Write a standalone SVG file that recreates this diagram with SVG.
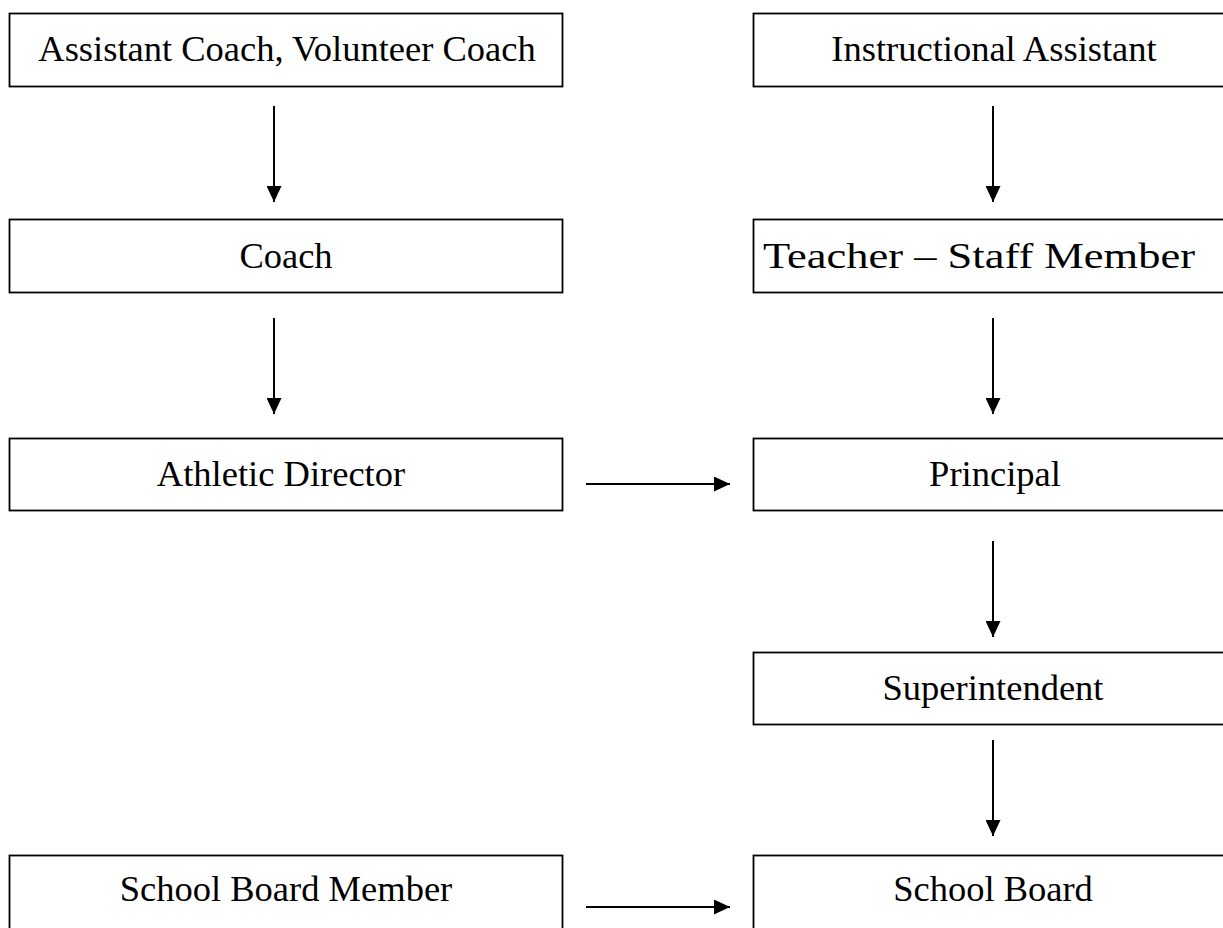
<svg xmlns="http://www.w3.org/2000/svg" width="1223" height="928" viewBox="0 0 1223 928">
  <defs>
    <marker id="arrow" markerUnits="userSpaceOnUse" markerWidth="16" markerHeight="15" refX="16" refY="7.5" orient="auto">
      <path d="M0,0 L16,7.5 L0,15 z" fill="#000"/>
    </marker>
  </defs>
  <style>
    .box { fill: #fff; stroke: #000; stroke-width: 1.8; }
    .lbl { font-family: "Liberation Serif", "Times New Roman", serif; font-size: 36.5px; fill: #000; text-anchor: middle; }
    .conn { stroke: #000; stroke-width: 2; fill: none; marker-end: url(#arrow); }
  </style>
  <rect width="1223" height="928" fill="#fff"/>
  <g id="n-assistant-coach">
    <rect class="box" x="9.5" y="13.5" width="553" height="73"/>
    <text class="lbl" x="287" y="61">Assistant Coach, Volunteer Coach</text>
  </g>
  <g id="n-instructional-assistant">
    <rect class="box" x="753.5" y="13.5" width="480" height="73"/>
    <text class="lbl" x="994" y="61">Instructional Assistant</text>
  </g>
  <g id="n-coach">
    <rect class="box" x="9.5" y="219.5" width="553" height="73"/>
    <text class="lbl" x="286" y="268">Coach</text>
  </g>
  <g id="n-teacher">
    <rect class="box" x="753.5" y="219.5" width="480" height="73"/>
    <text class="lbl" x="979" y="268" textLength="432" lengthAdjust="spacingAndGlyphs">Teacher – Staff Member</text>
  </g>
  <g id="n-athletic-director">
    <rect class="box" x="9.5" y="438.5" width="553" height="72"/>
    <text class="lbl" x="281" y="486">Athletic Director</text>
  </g>
  <g id="n-principal">
    <rect class="box" x="753.5" y="438.5" width="480" height="72"/>
    <text class="lbl" x="995" y="486">Principal</text>
  </g>
  <g id="n-superintendent">
    <rect class="box" x="753.5" y="652.5" width="480" height="72"/>
    <text class="lbl" x="993" y="700">Superintendent</text>
  </g>
  <g id="n-school-board-member">
    <rect class="box" x="9.5" y="855.5" width="553" height="80"/>
    <text class="lbl" x="286" y="901">School Board Member</text>
  </g>
  <g id="n-school-board">
    <rect class="box" x="753.5" y="855.5" width="480" height="80"/>
    <text class="lbl" x="993" y="901">School Board</text>
  </g>
  <g id="connectors">
    <line class="conn" x1="274" y1="106" x2="274" y2="202"/>
    <line class="conn" x1="274" y1="318" x2="274" y2="414"/>
    <line class="conn" x1="993" y1="106" x2="993" y2="202"/>
    <line class="conn" x1="993" y1="318" x2="993" y2="414"/>
    <line class="conn" x1="993" y1="541" x2="993" y2="637"/>
    <line class="conn" x1="993" y1="740" x2="993" y2="836"/>
    <line class="conn" x1="586" y1="484" x2="730" y2="484"/>
    <line class="conn" x1="586" y1="907" x2="730" y2="907"/>
  </g>
</svg>
